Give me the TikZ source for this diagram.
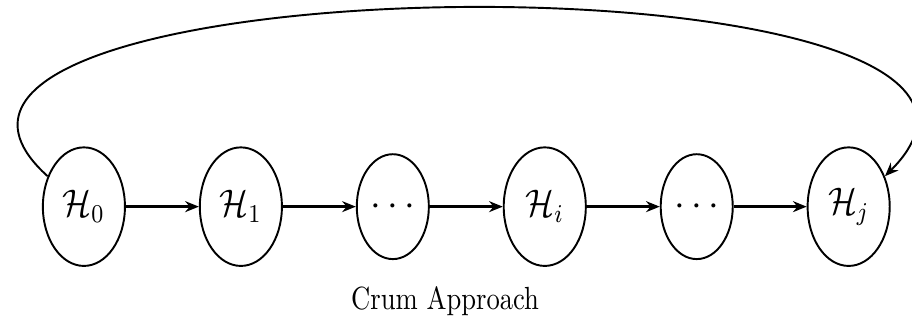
\documentclass[tikz,border=0pt]{standalone}
\usetikzlibrary{arrows.meta,positioning,shapes.geometric}
\tikzset{
  hyp/.style={ellipse,draw=black,semithick,minimum width=9mm,minimum height=13mm,
    inner sep=0pt,font=\large},
  gap/.style={hyp,minimum width=7.9mm,minimum height=11.5mm},
  rel/.style={-{Stealth[length=1.5mm,width=1.2mm]},draw=black,thick},
  loopback/.style={rel,semithick}
}
\newcommand{\hyptext}[1]{\scalebox{0.88}[1]{$\mathcal{H}_{#1}$}}

\begin{document}
\begin{tikzpicture}[node distance=8mm]
  \useasboundingbox (0,0) rectangle (10,3.596);

  \node[hyp] (h0) at (0.92,1.33) {\hyptext{0}};
  \node[hyp,right=of h0] (h1) {\hyptext{1}};
  \node[gap,right=of h1] (dots1) {$\cdots$};
  \node[hyp,right=of dots1] (hi) {\hyptext{i}};
  \node[gap,right=of hi] (dots2) {$\cdots$};
  \node[hyp,right=of dots2] (hj) {\hyptext{j}};

  \node (caption) at (4.88,0.29) {\scalebox{0.83}[1]{Crum Approach}};

  \draw[rel] (h0) -- (h1);
  \draw[rel] (h1) -- (dots1);
  \draw[rel] (dots1) -- (hi);
  \draw[rel] (hi) -- (dots2);
  \draw[rel] (dots2) -- (hj);
  \draw[loopback] (h0.140) to[out=138,in=45] (hj.40);
\end{tikzpicture}
\end{document}
